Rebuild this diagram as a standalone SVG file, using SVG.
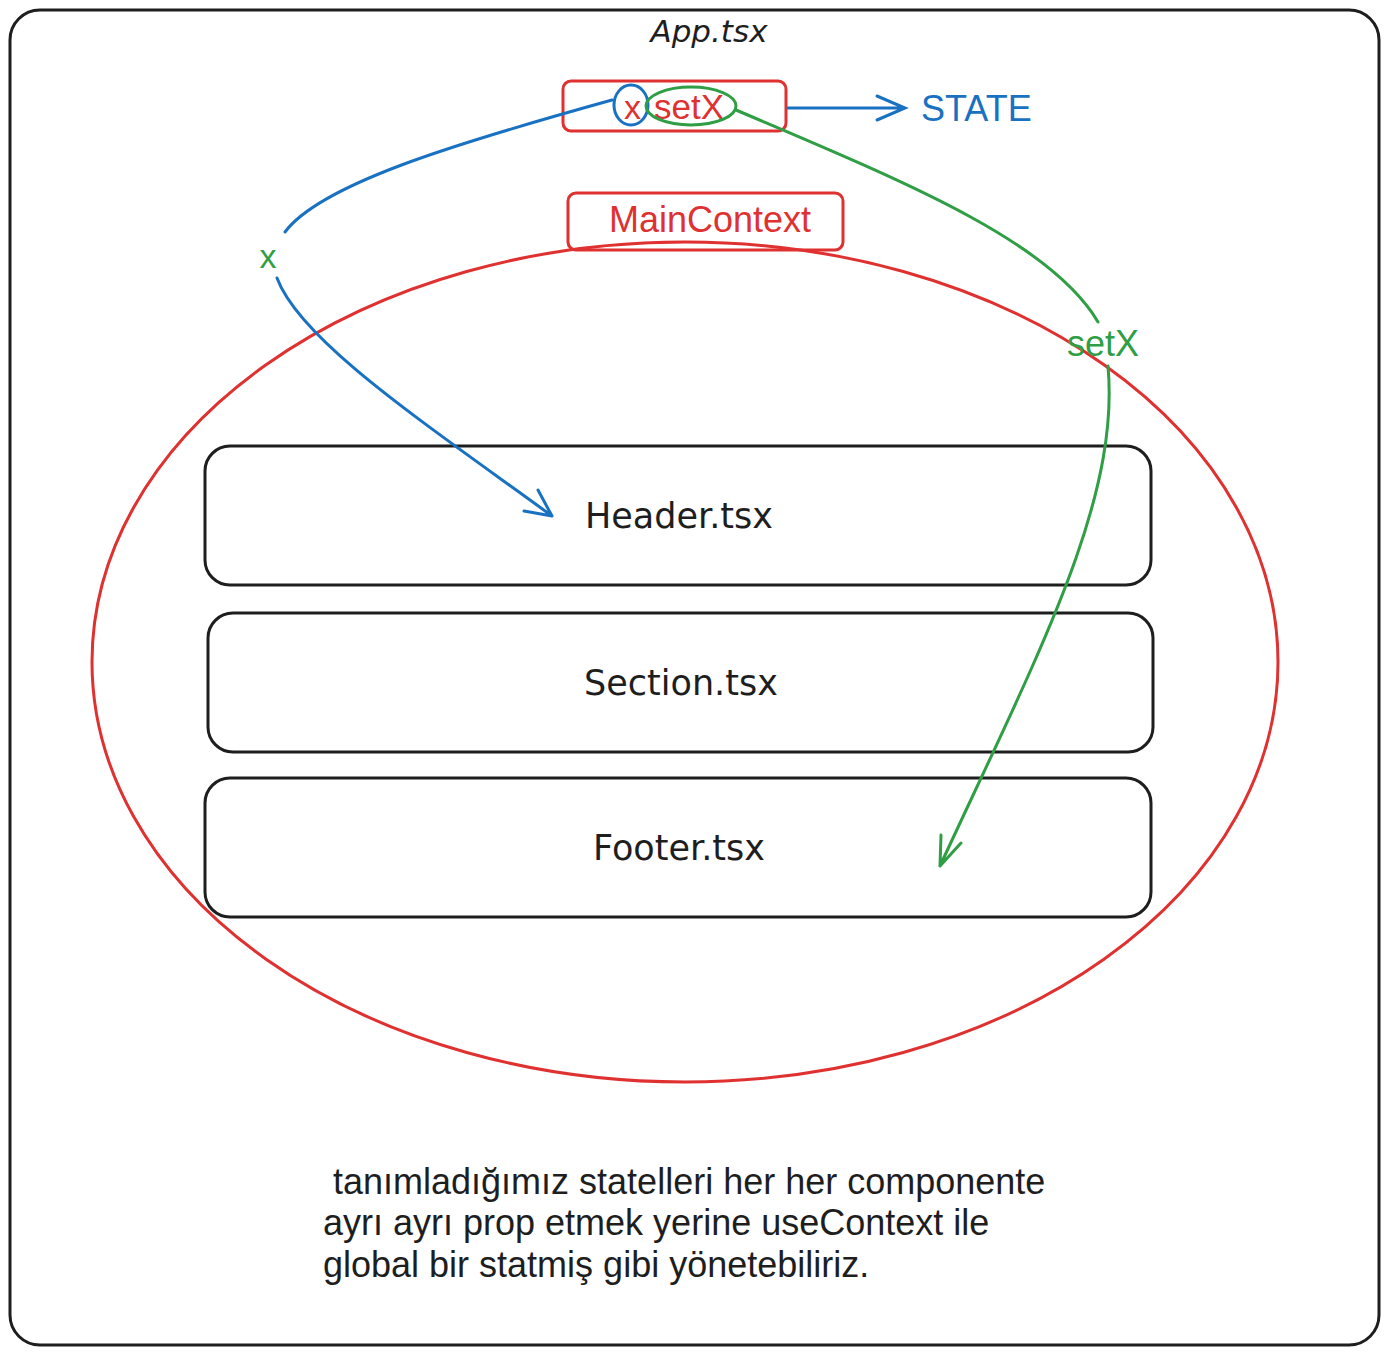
<svg xmlns="http://www.w3.org/2000/svg" width="1389" height="1355" viewBox="0 0 1389 1355">
<style>
.hand{font-family:"DejaVu Sans","Liberation Sans",sans-serif;fill:#1e1e1e;text-anchor:middle}
.sans{font-family:"Liberation Sans",Arial,sans-serif}
.box{fill:none;stroke:#1e1e1e;stroke-width:3}
.red{fill:none;stroke:#e03131;stroke-width:3}
.blue{fill:none;stroke:#1971c2;stroke-width:3;stroke-linecap:round}
.green{fill:none;stroke:#2f9e44;stroke-width:3;stroke-linecap:round}
</style>
<rect width="1389" height="1355" fill="#ffffff"/>
<g id="app">
<rect class="box" x="10" y="10" width="1369" height="1335" rx="30"/>
<text class="hand" x="709" y="42" font-size="31" font-style="italic">App.tsx</text>
</g>
<g id="state-box">
<rect class="red" x="563" y="81" width="223" height="50" rx="8"/>
<text class="sans" x="624" y="119" font-size="34" fill="#e03131">x</text>
<text class="sans" x="654" y="119" font-size="35" fill="#e03131">setX</text>
<ellipse cx="631" cy="105" rx="17" ry="20" fill="none" stroke="#1971c2" stroke-width="3"/>
<ellipse cx="691" cy="106" rx="45" ry="19" fill="none" stroke="#2f9e44" stroke-width="3"/>
</g>
<g id="state-label">
<text class="sans" x="921" y="121" font-size="36" fill="#1971c2">STATE</text>
</g>
<g id="main-context">
<ellipse cx="685" cy="662" rx="593" ry="420" fill="none" stroke="#e03131" stroke-width="3"/>
<rect class="red" x="568" y="193" width="275" height="57" rx="8"/>
<text class="sans" x="710" y="232" font-size="36" fill="#e03131" text-anchor="middle">MainContext</text>
</g>
<g id="header">
<rect class="box" x="205" y="446" width="946" height="139" rx="25"/>
<text class="hand" x="679" y="528" font-size="35">Header.tsx</text>
</g>
<g id="section">
<rect class="box" x="208" y="613" width="945" height="139" rx="25"/>
<text class="hand" x="681" y="695" font-size="35">Section.tsx</text>
</g>
<g id="footer">
<rect class="box" x="205" y="778" width="946" height="139" rx="25"/>
<text class="hand" x="679" y="860" font-size="35">Footer.tsx</text>
</g>
<g id="connectors">
<path class="blue" d="M788,108 L905,108 M877,96 L905,108 L877,120"/>
<path class="blue" d="M612,100 C450,145 320,185 285,232"/>
<path class="blue" d="M277,278 C300,340 420,420 552,516 M524,511 L552,516 M538,490 L552,516"/>
<text class="sans" x="268" y="268" font-size="34" fill="#2f9e44" text-anchor="middle">x</text>
<path class="green" d="M736,110 C900,180 1050,240 1098,322"/>
<path class="green" d="M1108,366 C1120,500 1040,650 940,866 M941,835 L940,866 M961,843 L940,866"/>
<text class="sans" x="1103" y="356" font-size="36" fill="#2f9e44" text-anchor="middle">setX</text>
</g>
<g id="note" class="sans" font-size="36" fill="#1e1e1e">
<text x="333" y="1194">tanımladığımız statelleri her her componente</text>
<text x="323" y="1235">ayrı ayrı prop etmek yerine useContext ile</text>
<text x="323" y="1277">global bir statmiş gibi yönetebiliriz.</text>
</g>
</svg>
